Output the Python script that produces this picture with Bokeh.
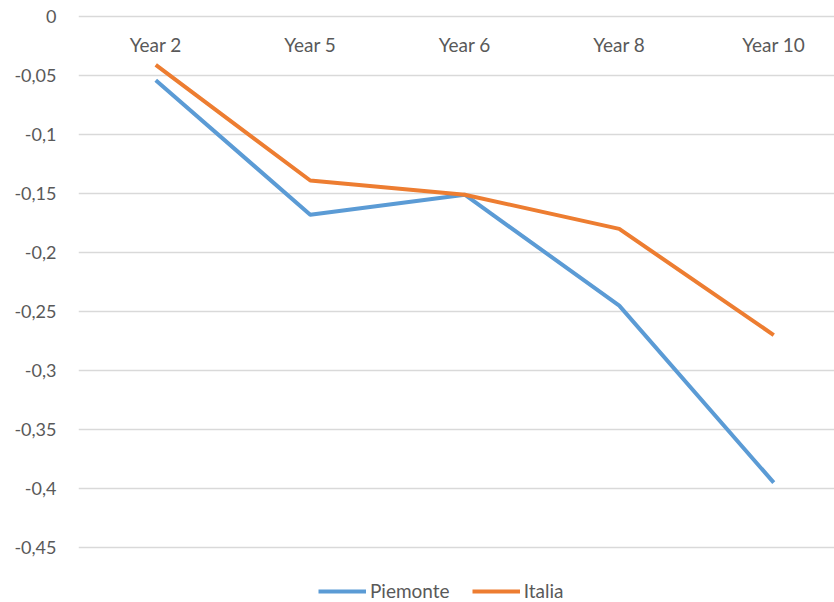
from bokeh.plotting import figure
from bokeh.models import Range1d, FixedTicker, CustomJSTickFormatter, Legend, LegendItem, ColumnDataSource
from bokeh.core.properties import value
from bokeh.embed import file_html
from bokeh.resources import INLINE

categories = ["Year 2", "Year 5", "Year 6", "Year 8", "Year 10"]
piemonte = [-0.054, -0.168, -0.151, -0.245, -0.395]
italia = [-0.041, -0.139, -0.151, -0.180, -0.270]
y_ticks = [0, -0.05, -0.1, -0.15, -0.2, -0.25, -0.3, -0.35, -0.4, -0.45]

FONT = "Lato"
GREY = "#595959"

xs = list(range(len(categories)))
src = ColumnDataSource(dict(x=xs, cat=categories, p=piemonte, i=italia, y0=[0] * len(xs)))

p = figure(width=834, height=602, output_backend="svg", toolbar_location=None,
           x_range=Range1d(-0.5, -0.5 + 756 / 154.5),
           y_range=Range1d(-586 / 1180, 16 / 1180),
           x_axis_location=None, min_border_left=78, min_border_right=0,
           min_border_top=0, min_border_bottom=0)
p.outline_line_color = None
p.background_fill_color = "white"
p.border_fill_color = "white"

p.xgrid.grid_line_color = None
p.ygrid.ticker = FixedTicker(ticks=y_ticks)
p.ygrid.grid_line_color = "#d9d9d9"
p.ygrid.grid_line_width = 1.5

ya = p.yaxis[0]
ya.ticker = FixedTicker(ticks=y_ticks)
ya.formatter = CustomJSTickFormatter(code="""
let s = tick.toFixed(2);
if (s.indexOf('.') >= 0) { s = s.replace(/0+$/, '').replace(/\\.$/, ''); }
if (s === '-0') s = '0';
return s.replace('.', ',');
""")
ya.axis_line_color = None
ya.major_tick_line_color = None
ya.minor_tick_line_color = None
ya.major_label_standoff = 16
ya.major_label_text_font = FONT
ya.major_label_text_font_size = "18px"
ya.major_label_text_color = GREY

p.text(x="x", y="y0", text="cat", source=src, text_align="center",
       text_baseline="alphabetic", y_offset=28, text_font=value(FONT),
       text_font_size="19px", text_color=GREY)

r1 = p.line(x="x", y="p", source=src, line_color="#5B9BD5", line_width=4, line_join="round")
r2 = p.line(x="x", y="i", source=src, line_color="#ED7D31", line_width=4, line_join="round")

legend = Legend(items=[LegendItem(label="Piemonte", renderers=[r1]),
                       LegendItem(label="Italia", renderers=[r2])],
                orientation="horizontal", location=(240, 0))
legend.border_line_color = None
legend.background_fill_alpha = 0
legend.padding = 0
legend.margin = 0
legend.spacing = 22
legend.glyph_width = 48
legend.glyph_height = 20
legend.label_standoff = 4
legend.label_text_font = FONT
legend.label_text_font_size = "19px"
legend.label_text_color = GREY
p.add_layout(legend, "center")

open("out.html", "w").write(file_html(p, INLINE))
